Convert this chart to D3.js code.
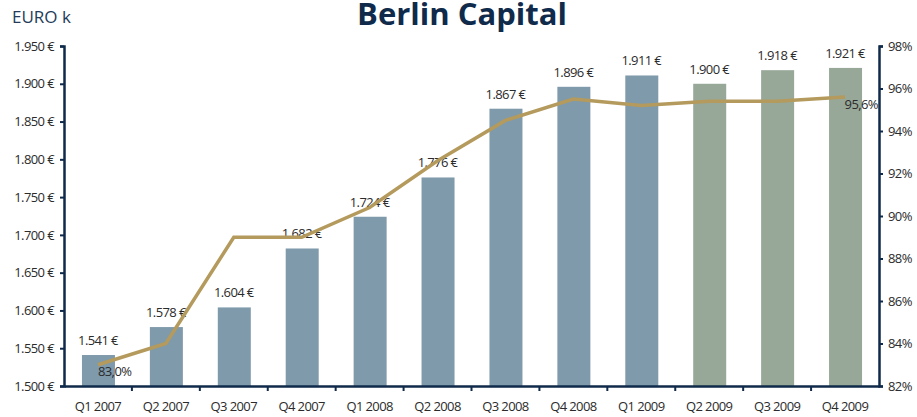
<!DOCTYPE html>
<html lang="en">
<head>
  <meta charset="utf-8">
  <title>Berlin Capital</title>
  <script src="https://d3js.org/d3.v7.min.js"></script>
  <style>
    body { margin: 0; background: #fff; }
    text { font-family: "Open Sans", "DejaVu Sans", sans-serif; fill: #2b2b2b; }
  </style>
</head>
<body>
<script>
  // data
  var quarters = ["Q1 2007", "Q2 2007", "Q3 2007", "Q4 2007", "Q1 2008", "Q2 2008",
                  "Q3 2008", "Q4 2008", "Q1 2009", "Q2 2009", "Q3 2009", "Q4 2009"];
  var capital = [1541, 1578, 1604, 1682, 1724, 1776, 1867, 1896, 1911, 1900, 1918, 1921];
  var forecast = [false, false, false, false, false, false, false, false, false, true, true, true];
  var share = [83.0, 84.0, 89.0, 89.0, 90.4, 92.6, 94.5, 95.5, 95.2, 95.4, 95.4, 95.6];
  var leftTicks = [1500, 1550, 1600, 1650, 1700, 1750, 1800, 1850, 1900, 1950];
  var rightTicks = [82, 84, 86, 88, 90, 92, 94, 96, 98];

  var width = 917, height = 417;
  var navy = "#0f2a4a";

  var svg = d3.select("body").append("svg")
    .attr("width", width)
    .attr("height", height);

  var x = d3.scaleBand().domain(quarters).range([64, 879]);
  var y = d3.scaleLinear().domain([1500, 1950]).range([386, 46]);
  var y2 = d3.scaleLinear().domain([82, 98]).range([386, 46]);

  var euro = function(v) { return d3.format(",")(v).replace(",", ".") + " €"; };

  // bars
  svg.append("g").selectAll("rect")
    .data(capital)
    .enter().append("rect")
    .attr("x", function(d, i) { return x(quarters[i]) + x.bandwidth() / 2 - 16; })
    .attr("width", 33)
    .attr("y", function(d) { return y(d); })
    .attr("height", function(d) { return y(1500) - y(d); })
    .attr("fill", function(d, i) { return forecast[i] ? "#97a898" : "#7f9aab"; });

  // bar labels
  svg.append("g").selectAll("text")
    .data(capital)
    .enter().append("text")
    .attr("x", function(d, i) { return x(quarters[i]) + x.bandwidth() / 2; })
    .attr("y", function(d) { return y(d) - 10; })
    .attr("text-anchor", "middle")
    .attr("font-size", 13)
    .style("letter-spacing", "-0.6px")
    .text(euro);

  // percentage line
  var line = d3.line()
    .x(function(d, i) { return x(quarters[i]) + x.bandwidth() / 2; })
    .y(function(d) { return y2(d); });

  svg.append("path")
    .datum(share)
    .attr("d", line)
    .attr("fill", "none")
    .attr("stroke", "#b49a5c")
    .attr("stroke-width", 3.5);

  // first and last percentage labels
  var pct = function(v) { return v.toFixed(1).replace(".", ",") + "%"; };
  svg.append("text")
    .attr("x", x(quarters[0]) + x.bandwidth() / 2)
    .attr("y", y2(share[0]) + 11)
    .attr("font-size", 13)
    .style("letter-spacing", "-0.6px")
    .text(pct(share[0]));
  svg.append("text")
    .attr("x", x(quarters[11]) + x.bandwidth() / 2 + 33)
    .attr("y", y2(share[11]) + 12)
    .attr("text-anchor", "end")
    .attr("font-size", 13)
    .style("letter-spacing", "-0.6px")
    .text(pct(share[11]));

  // axes
  var leftAxis = svg.append("g")
    .attr("transform", "translate(64,0)")
    .call(d3.axisLeft(y).tickValues(leftTicks).tickFormat(euro).tickSize(4).tickPadding(6));

  var rightAxis = svg.append("g")
    .attr("transform", "translate(879,0)")
    .call(d3.axisRight(y2).tickValues(rightTicks).tickFormat(function(d) { return d + "%"; }).tickSize(4).tickPadding(5));

  var bottomAxis = svg.append("g")
    .attr("transform", "translate(0,386)")
    .call(d3.axisBottom(x).tickSize(0).tickPadding(16));

  // tick marks at band boundaries on the x axis
  svg.append("g").selectAll("line")
    .data(quarters.slice(1))
    .enter().append("line")
    .attr("x1", function(d) { return x(d); })
    .attr("x2", function(d) { return x(d); })
    .attr("y1", 386)
    .attr("y2", 391)
    .attr("stroke", navy)
    .attr("stroke-width", 2);

  [leftAxis, rightAxis, bottomAxis].forEach(function(g) {
    g.select(".domain").attr("stroke", navy).attr("stroke-width", 2.5);
    g.selectAll(".tick line").attr("stroke", navy).attr("stroke-width", 2);
    g.selectAll("text").attr("font-size", 13).attr("font-family", "'Open Sans', sans-serif")
      .attr("fill", "#2b2b2b").style("letter-spacing", "-0.6px");
  });

  // titles
  svg.append("text")
    .attr("x", 462)
    .attr("y", 25)
    .attr("text-anchor", "middle")
    .attr("font-size", 31)
    .attr("font-weight", "bold")
    .style("fill", navy)
    .text("Berlin Capital");

  svg.append("text")
    .attr("x", 12)
    .attr("y", 23)
    .attr("font-size", 17)
    .style("fill", "#243b59")
    .text("EURO k");
</script>
</body>
</html>
